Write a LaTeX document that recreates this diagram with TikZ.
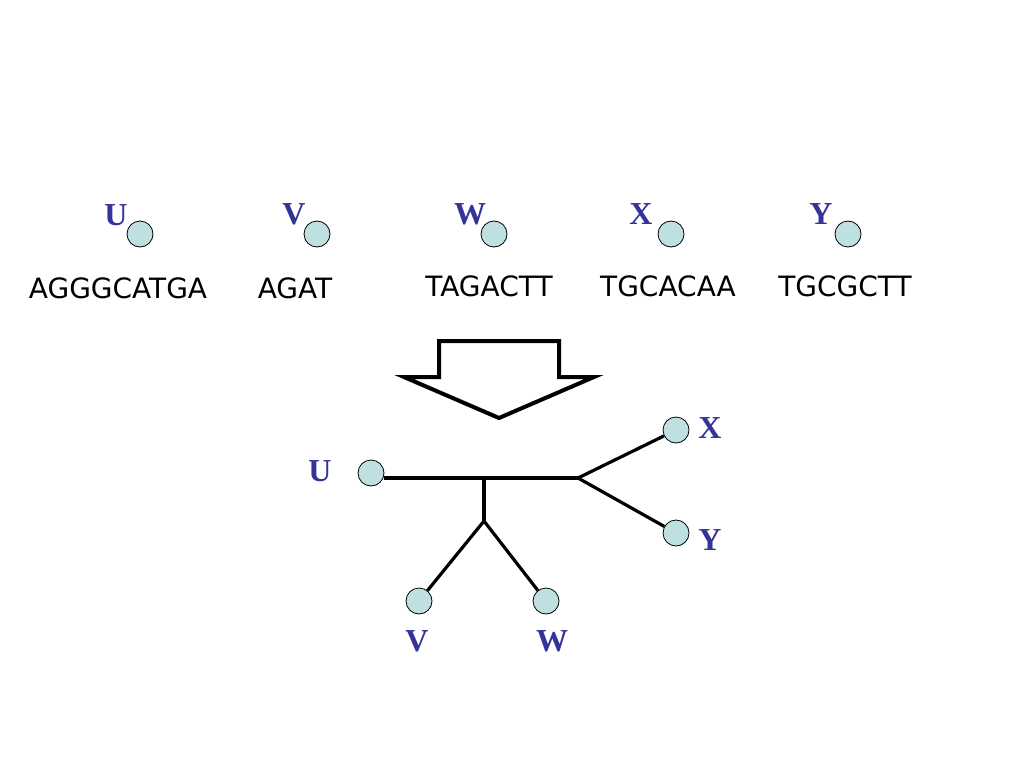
\documentclass[tikz,border=0pt]{standalone}
\usepackage{fontspec}
\setmainfont{Liberation Serif}
\newfontfamily\seqfont{DejaVu Sans}
\usetikzlibrary{positioning}

\begin{document}
\begin{tikzpicture}[
		  x=1pt, y=-1pt,
		  leaf/.style={draw,circle,fill=leafcol,line width=0.8pt,minimum size=26pt,inner sep=0pt},
		  taxon/.style={text=taxcol,font=\fontsize{32}{32}\selectfont\bfseries,inner sep=0pt},
		  seq/.style={font=\seqfont\fontsize{28}{28}\selectfont,inner sep=0pt},
		  branch/.style={line width=3.2pt}
		]
		\definecolor{leafcol}{RGB}{190,224,224}
		\definecolor{taxcol}{RGB}{51,51,153}
		\useasboundingbox (0,0) rectangle (1024,768);
		% sequences
		\node[leaf] (Uc) at (140,234) {};
		\node[leaf] (Vc) at (317,234) {};
		\node[leaf] (Wc) at (494,234) {};
		\node[leaf] (Xc) at (671,234) {};
		\node[leaf] (Yc) at (848,234) {};
		\node[taxon] (Ul) at (116,215) {U};
		\node[taxon] (Vl) at (294,214) {V};
		\node[taxon] (Wl) at (470,214) {W};
		\node[taxon] (Xl) at (641,214) {X};
		\node[taxon] (Yl) at (821,214) {Y};
		\node[seq] (Us) at (118,288) {AGGGCATGA};
		\node[seq] (Vs) at (295,288) {AGAT};
		\node[seq] (Ws) at (489,286) {TAGACTT};
		\node[seq] (Xs) at (668,286) {TGCACAA};
		\node[seq] (Ys) at (845,286) {TGCGCTT};
		% arrow
		\draw[line width=4pt,line join=miter] (439,341) -- (559,341) -- (559,377) -- (594,377)
			-- (499,418) -- (404,377) -- (439,377) -- cycle;
		% tree
		\node[leaf] (U) at (371,473) {};
		\node[leaf] (V) at (419,601) {};
		\node[leaf] (W) at (546,601) {};
		\node[leaf] (X) at (676,430) {};
		\node[leaf] (Y) at (676,533) {};
		\node[taxon] (Ut) at (320,471) {U};
		\node[taxon] (Vt) at (417,641) {V};
		\node[taxon] (Wt) at (552,641) {W};
		\node[taxon] (Xt) at (710,428) {X};
		\node[taxon] (Yt) at (710,540) {Y};
		\coordinate (a) at (484,478);
		\coordinate (b) at (484,521);
		\coordinate (c) at (578,478);
		\path (U.east |- a) edge[branch] (c)
			(a) edge[branch] (b)
			(b) edge[branch] (V)
			(b) edge[branch] (W)
			(c) edge[branch] (X)
			(c) edge[branch] (Y);
		\end{tikzpicture}
\end{document}
